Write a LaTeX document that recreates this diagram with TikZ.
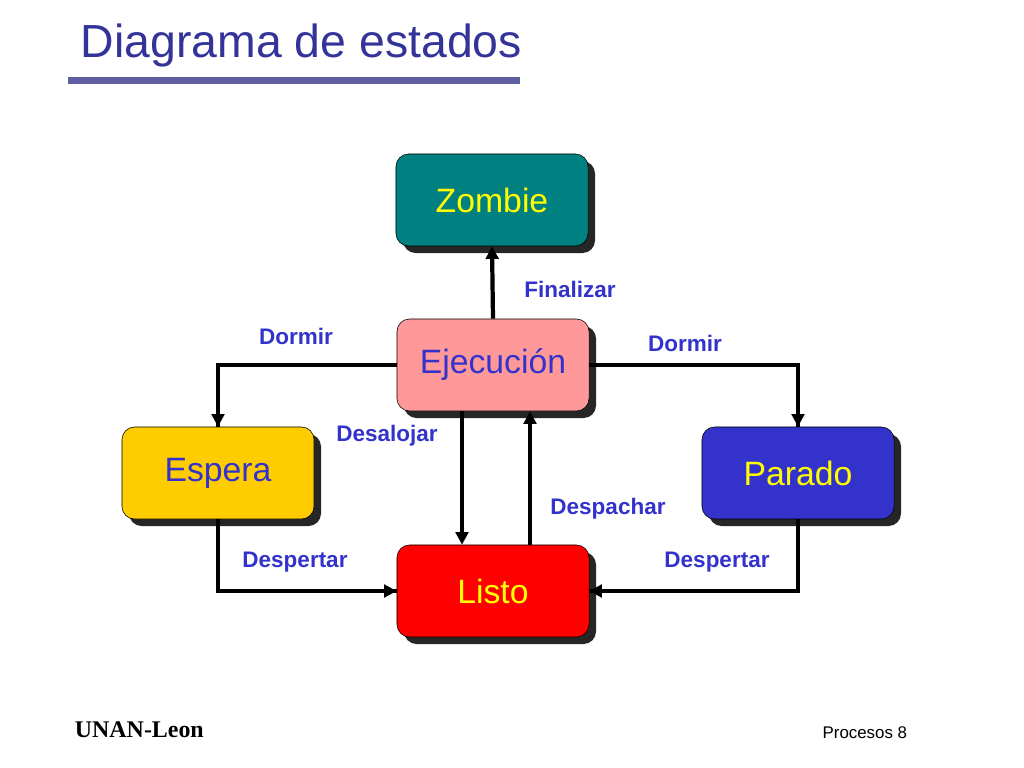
\documentclass[tikz,border=0pt]{standalone}
\usepackage{fontspec}
\setmainfont{Liberation Sans}
\newfontfamily\serifbold{Liberation Serif}
\usetikzlibrary{positioning}
\usetikzlibrary{shadows}
\usetikzlibrary{arrows.meta}
\definecolor{st-teal}{HTML}{008080}
\definecolor{st-pink}{HTML}{FF9999}
\definecolor{st-gold}{HTML}{FFCC00}
\definecolor{st-blue}{HTML}{3333CC}
\definecolor{st-red}{HTML}{FF0000}
\definecolor{st-yellow}{HTML}{FFFF00}
\definecolor{st-title}{HTML}{333399}
\definecolor{st-bar}{HTML}{5E5EA0}
\tikzset{
  state/.style 2 args={
    draw=black,
    rounded corners=9pt,
    fill=#1,
    text=#2,
    minimum width=4.8cm,
    minimum height=2.3cm,
    font=\fontsize{24}{28}\selectfont,
    drop shadow={shadow xshift=5pt, shadow yshift=-5pt, fill=black!85, opacity=1}},
}

\begin{document}
\begin{tikzpicture}[
  x=0.025cm, y=-0.025cm,
  trans/.style={line width=3pt, -{Triangle[length=9pt, width=9pt]}},
  link/.style={line width=3pt},
  tag/.style={font=\bfseries\fontsize{16}{18}\selectfont, text=st-blue}
]
\useasboundingbox (0,0) rectangle (1024,768);

% Title
\node[anchor=west, text=st-title, font=\fontsize{33}{38}\selectfont] (title) at (76,46) {Diagrama de estados};
\fill[st-bar] (68,77) rectangle (520,84);

% States
\node[state={st-teal}{st-yellow}] (zombie) at (492,200) {Zombie};
\node[state={st-pink}{st-blue}] (ejec) at (493,365) {Ejecución};
\node[state={st-gold}{st-blue}] (espera) at (218,473) {Espera};
\node[state={st-blue}{st-yellow}] (parado) at (798,473) {Parado};
\node[state={st-red}{st-yellow}] (listo) at (493,591) {Listo};

% Transitions
\draw[trans] (ejec.north) to (zombie.south);
\draw[link] (ejec.west) -| (espera.north);
\draw[trans] (ejec.west -| espera.north) to (espera.north);
\draw[link] (ejec.east) -| (parado.north);
\draw[trans] (ejec.east -| parado.north) to (parado.north);
\draw[trans] (ejec.south -| 462,0) to (listo.north -| 462,0);
\draw[trans] (listo.north -| 530,0) to (ejec.south -| 530,0);
\draw[link] (espera.south) |- (listo.west);
\draw[trans] (espera.south |- listo.west) to (listo.west);
\draw[link] (parado.south) |- (listo.east);
\draw[trans] (parado.south |- listo.east) to (listo.east);

% Labels
\node[tag] (finalizar) at (570,289) {Finalizar};
\node[tag] (dormir1) at (296,336) {Dormir};
\node[tag] (dormir2) at (685,343) {Dormir};
\node[tag] (desalojar) at (387,436) {Desalojar};
\node[tag] (despachar) at (608,509) {Despachar};
\node[tag] (despertar1) at (295,562) {Despertar};
\node[tag] (despertar2) at (717,562) {Despertar};

% Footer
\node[anchor=west, font=\serifbold\bfseries\fontsize{17}{20}\selectfont] (unan) at (70,730) {UNAN-Leon};
\node[anchor=east, font=\fontsize{12}{14}\selectfont] (pag) at (912,733) {Procesos 8};
\end{tikzpicture}
\end{document}
